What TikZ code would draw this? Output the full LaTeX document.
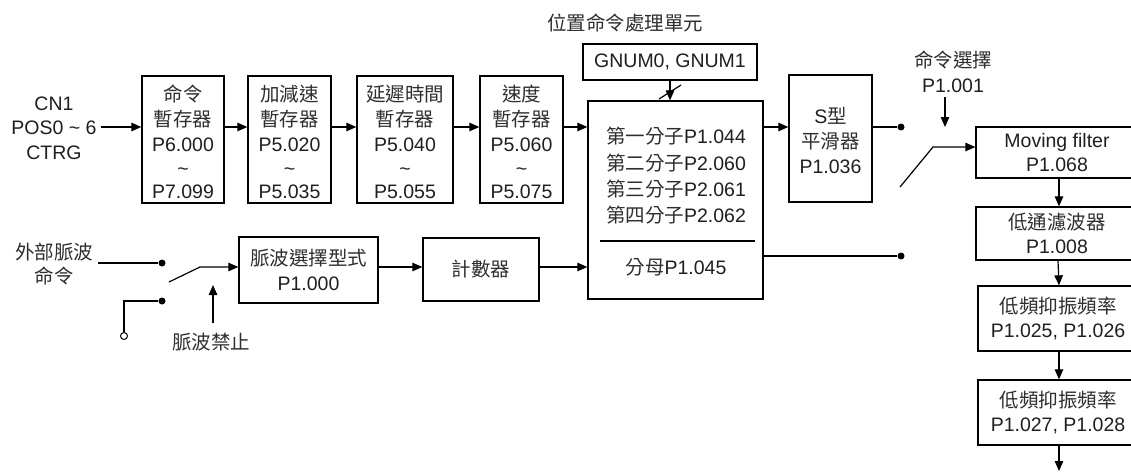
\documentclass[tikz,border=0pt]{standalone}
\usepackage{fontspec}
\setmainfont{Liberation Sans}
\newfontfamily\cjk{Noto Sans CJK TC}
\newcommand\C[1]{{\cjk\color{black!82}#1}}
\usetikzlibrary{arrows.meta}
\tikzset{
  every node/.style={font=\fontsize{19.5}{24.5}\selectfont,text=black!88},
  box/.style n args={2}{draw,line width=1.3pt,inner sep=0pt,minimum width=#1,minimum height=#2,align=center},
  txt/.style={inner sep=1pt,align=center},
  stack/.style={txt,font=\fontsize{19.5}{23}\selectfont},
  conn/.style={line width=1.2pt,-{Triangle[length=10pt,width=8.5pt]}},
  wire/.style={line width=1.2pt},
  dot/.style={circle,fill=black,inner sep=0pt,minimum size=7pt},
  odot/.style={circle,draw=black,fill=white,line width=1pt,inner sep=0pt,minimum size=7pt}
}
\begin{document}
\begin{tikzpicture}[x=1pt,y=-1pt]
\clip (0,0) rectangle (1131,471);
\fill[white] (0,0) rectangle (1131,471);
% row coordinates
\coordinate (r) at (0,127);
\coordinate (r2) at (0,267);
% top row
\node[txt] (cn) at (54,128) {CN1\\POS0 \textasciitilde\ 6\\CTRG};
\node[box={82pt}{127pt}] (b1) at (183,139.5) {};
\node[box={83pt}{127pt}] (b2) at (289.5,139.5) {};
\node[box={96pt}{127pt}] (b3) at (405,139.5) {};
\node[box={83pt}{127pt}] (b4) at (521.5,139.5) {};
\node[stack] (t1) at ([yshift=-2pt]b1.center) {\C{命令}\\[2.5pt]\C{暫存器}\\[2pt]P6.000\\[0.5pt]\textasciitilde\\P7.099};
\node[stack] (t2) at ([yshift=-2pt]b2.center) {\C{加減速}\\[2.5pt]\C{暫存器}\\[2pt]P5.020\\[0.5pt]\textasciitilde\\P5.035};
\node[stack] (t3) at ([yshift=-2pt]b3.center) {\C{延遲時間}\\[2.5pt]\C{暫存器}\\[2pt]P5.040\\[0.5pt]\textasciitilde\\P5.055};
\node[stack] (t4) at ([yshift=-2pt]b4.center) {\C{速度}\\[2.5pt]\C{暫存器}\\[2pt]P5.060\\[0.5pt]\textasciitilde\\P5.075};
% position command unit
\node[txt] (title) at (625,23) {\C{位置命令處理單元}};
\node[box={174pt}{36pt}] (gn) at (670,62) {GNUM0, GNUM1};
\node[box={175pt}{198pt}] (big) at (675.5,200) {};
\node[txt,font=\fontsize{19.5}{26.3}\selectfont] (num) at (676,176) {\C{第一分子}P1.044\\\C{第二分子}P2.060\\\C{第三分子}P2.061\\\C{第四分子}P2.062};
\node[txt] (den) at (676,267) {\C{分母}P1.045};
\draw[wire] (600,241) -- (755,241);
% S-curve
\node[box={83pt}{127pt}] (S) at (830.5,138.5) {};
\node[txt,font=\fontsize{19.5}{25}\selectfont] (St) at ([yshift=-1.5pt]S.center) {S\C{型}\\\C{平滑器}\\P1.036};
% right column
\node[txt] (sel) at (953,72) {\C{命令選擇}\\P1.001};
\node[box={162pt}{51pt}] (mf) at (1057,152.5) {Moving filter\\P1.068};
\node[box={162pt}{53pt}] (lp) at (1057,233.5) {\C{低通濾波器}\\P1.008};
\node[box={160pt}{65pt}] (l1) at (1058,318.5) {\C{低頻抑振頻率}\\P1.025, P1.026};
\node[box={160pt}{65pt}] (l2) at (1058,412.5) {\C{低頻抑振頻率}\\P1.027, P1.028};
% dots right
\node[dot] (d1) at (901,127) {};
\node[dot] (d2) at (901,256) {};
% lower left
\node[txt] (ext) at (54,264) {\C{外部脈波}\\\C{命令}};
\node[dot] (d3) at (162,263) {};
\node[dot] (d4) at (162,301) {};
\node[odot] (oc) at (124,336) {};
\node[txt] (pi) at (211,342) {\C{脈波禁止}};
\node[box={139pt}{66pt}] (ps) at (308.5,270) {\C{脈波選擇型式}\\P1.000};
\node[box={116pt}{63pt}] (ct) at (481,269.5) {\C{計數器}};
% coordinates
\coordinate (lv1) at (900,187);
\coordinate (lv2) at (933,147);
\coordinate (lv3) at (169,282);
\coordinate (lv4) at (200,267);
\coordinate (s1) at (945,97);
\coordinate (s2) at (945,127);
\coordinate (p1) at (213,323);
\coordinate (p2) at (213,285);
\coordinate (g1) at (659,99);
\coordinate (g2) at (681,85);
\coordinate (bot) at (1059,471);
% connectors top row
\draw[conn] ([xshift=3pt]cn.east |- r) -- (b1.west |- r);
\draw[conn] (b1.east |- r) -- (b2.west |- r);
\draw[conn] (b2.east |- r) -- (b3.west |- r);
\draw[conn] (b3.east |- r) -- (b4.west |- r);
\draw[conn] (b4.east |- r) -- (big.west |- r);
\draw[conn] (big.east |- r) -- (S.west |- r);
\draw[wire] (S.east |- r) -- (d1);
\draw[wire] (big.east |- d2) -- (d2);
\draw[conn] (gn.south) -- (big.north -| gn.south);
\draw[wire] (g1) -- (g2);
% switch right
\draw[conn] (s1) -- (s2);
\draw[conn] (lv1) -- (lv2) -- (mf.west |- lv2);
\draw[conn] ([xshift=2pt]mf.south) -- ([xshift=2pt]lp.north);
\draw[conn] ([xshift=1pt]lp.south) -- ([xshift=1pt]l1.north);
\draw[conn] ([xshift=1pt]l1.south) -- ([xshift=1pt]l2.north);
\draw[conn] ([xshift=1pt]l2.south) -- (bot);
% lower left
\draw[wire] ([xshift=4pt]ext.east |- d3) -- (d3);
\draw[wire] (d4) -- (oc.north |- d4) -- (oc.north);
\draw[conn] (lv3) -- (lv4) -- (ps.west |- lv4);
\draw[conn] (p1) -- (p2);
\draw[conn] (ps.east |- r2) -- (ct.west |- r2);
\draw[conn] (ct.east |- r2) -- (big.west |- r2);
\end{tikzpicture}
\end{document}
